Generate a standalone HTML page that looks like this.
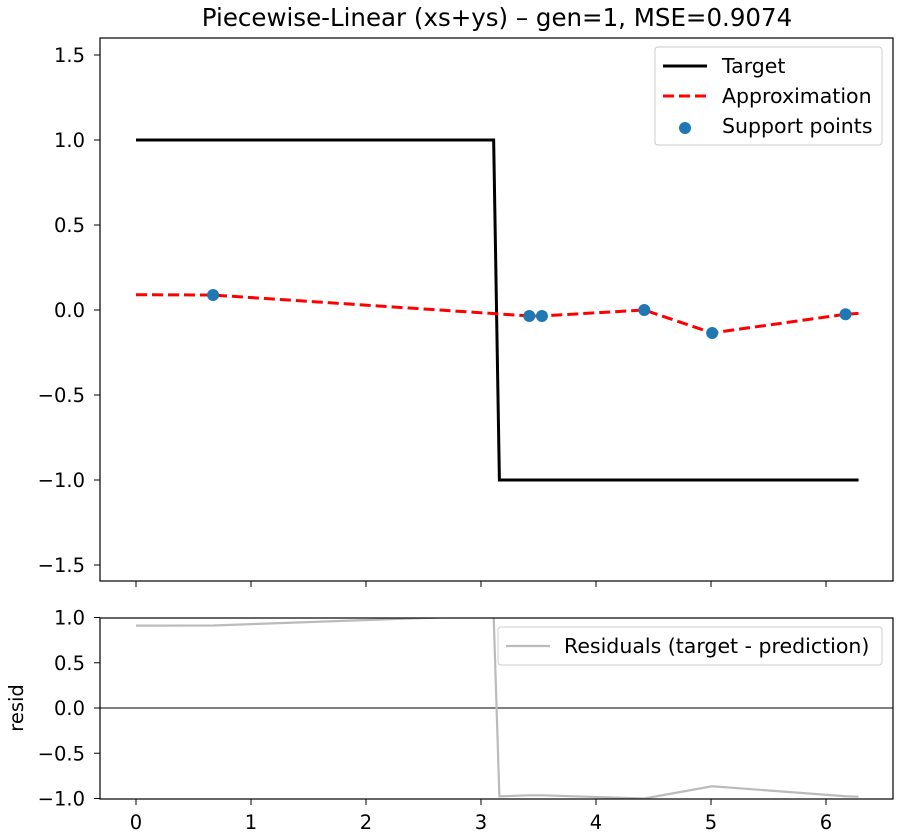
<!DOCTYPE html>
<html><head><meta charset="utf-8"><style>
body{margin:0;background:#fff}
svg{display:block;font-family:"DejaVu Sans","Liberation Sans",sans-serif}
</style></head><body>
<svg id="c" width="900" height="840" viewBox="0 0 900 840">
<text x="497" y="26" font-size="24.5" text-anchor="middle">Piecewise-Linear (xs+ys) – gen=1, MSE=0.9074</text>
</svg>
<script>
const supportX=[0.67,3.42,3.53,4.42,5.01,6.17];
const supportY=[0.088,-0.035,-0.035,0.0,-0.135,-0.025];
const approxEdgeY=[0.09,-0.02];
const targetX=[0,3.11,3.16,6.283];
const targetY=[1,1,-1,-1];
const xTicks=[0,1,2,3,4,5,6];
const yTicksTop=[1.5,1.0,0.5,0.0,-0.5,-1.0,-1.5];
const yTicksBot=[1.0,0.5,0.0,-0.5,-1.0];
const NS="http://www.w3.org/2000/svg";
const svg=document.getElementById('c');
const L=100,R=893;
const sx=v=>136+(v)*115;
const syT=v=>310-v*170;
const syB=v=>708-v*90.5;
function el(t,a,p){const e=document.createElementNS(NS,t);for(const k in a)e.setAttribute(k,a[k]);(p||svg).appendChild(e);return e;}
function fmt(v){return (v<0?'\u2212':'')+Math.abs(v).toFixed(1);}
const ax=[0].concat(supportX,[6.283]);
const ay=[approxEdgeY[0]].concat(supportY,[approxEdgeY[1]]);
function approxAt(x){for(let i=0;i<ax.length-1;i++){if(x<=ax[i+1]){const t=(x-ax[i])/(ax[i+1]-ax[i]);return ay[i]+t*(ay[i+1]-ay[i]);}}return ay[ay.length-1];}
function targetAt(x){return x<=3.11?1:(x>=3.16?-1:1-2*(x-3.11)/0.05);}
const defs=el('defs',{});
const c1=el('clipPath',{id:'ct'},defs);el('rect',{x:L,y:38,width:R-L,height:543},c1);
const c2=el('clipPath',{id:'cb'},defs);el('rect',{x:L,y:618,width:R-L,height:181},c2);
const gT=el('g',{'clip-path':'url(#ct)'});
let p=el('polyline',{points:targetX.map((x,i)=>sx(x)+','+syT(targetY[i])).join(' '),fill:'none',stroke:'#000','stroke-width':3},gT);


p=el('polyline',{points:ax.map((x,i)=>sx(x)+','+syT(ay[i])).join(' '),fill:'none',stroke:'#f00','stroke-width':3,'stroke-dasharray':'11,5'},gT);


supportX.forEach((x,i)=>{const c=el('circle',{cx:sx(x),cy:syT(supportY[i]),r:6,fill:'#1f77b4'},gT);

});
const rx=Array.from(new Set(ax.concat(targetX))).sort((a,b)=>a-b);
const gB=el('g',{'clip-path':'url(#cb)'});
p=el('line',{x1:L,x2:R,y1:syB(0),y2:syB(0),stroke:'#000','stroke-width':1},gB);


p=el('polyline',{points:rx.map(x=>sx(x)+','+syB(targetAt(x)-approxAt(x))).join(' '),fill:'none',stroke:'#bbb','stroke-width':2.2},gB);


p=el('rect',{x:L,y:38,width:R-L,height:543,fill:'none',stroke:'#000','stroke-width':1.2});


p=el('rect',{x:L,y:618,width:R-L,height:181,fill:'none',stroke:'#000','stroke-width':1.2});


xTicks.forEach(v=>{const x=sx(v);
el('line',{x1:x,x2:x,y1:581,y2:587,stroke:'#000'});
el('line',{x1:x,x2:x,y1:799,y2:805,stroke:'#000'});
const t=el('text',{x:x,y:829,'font-size':19.5,'text-anchor':'middle'});t.textContent=v;

});
yTicksTop.forEach(v=>{const y=syT(v);el('line',{x1:L-6,x2:L,y1:y,y2:y,stroke:'#000'});
const t=el('text',{x:L-15,y:y+7,'font-size':19.5,'text-anchor':'end'});t.textContent=fmt(v);

});
yTicksBot.forEach(v=>{const y=syB(v);el('line',{x1:L-6,x2:L,y1:y,y2:y,stroke:'#000'});
const t=el('text',{x:L-15,y:y+7,'font-size':19.5,'text-anchor':'end'});t.textContent=fmt(v);

});
let t=el('text',{x:0,y:0,'font-size':19.5,'text-anchor':'middle',transform:'translate(23,708) rotate(-90)'});t.textContent='resid';


const lg=el('g',{});


el('rect',{x:655,y:47,width:227,height:98,rx:3,fill:'#fff',stroke:'#ccc'},lg);
el('line',{x1:663,x2:707,y1:66,y2:66,stroke:'#000','stroke-width':3},lg);
el('line',{x1:663,x2:707,y1:96,y2:96,stroke:'#f00','stroke-width':3,'stroke-dasharray':'11,5'},lg);
el('circle',{cx:685,cy:128,r:6,fill:'#1f77b4'},lg);
[['Target',73],['Approximation',103],['Support points',133]].forEach(a=>{const e=el('text',{x:722,y:a[1],'font-size':20.5},lg);e.textContent=a[0];

});
const lg2=el('g',{});


el('rect',{x:498,y:627,width:384,height:38,rx:3,fill:'#fff',stroke:'#ccc'},lg2);
el('line',{x1:506,x2:550,y1:646,y2:646,stroke:'#bbb','stroke-width':2.2},lg2);
t=el('text',{x:564,y:653,'font-size':20.5},lg2);t.textContent='Residuals (target - prediction)';


</script>
</body></html>
